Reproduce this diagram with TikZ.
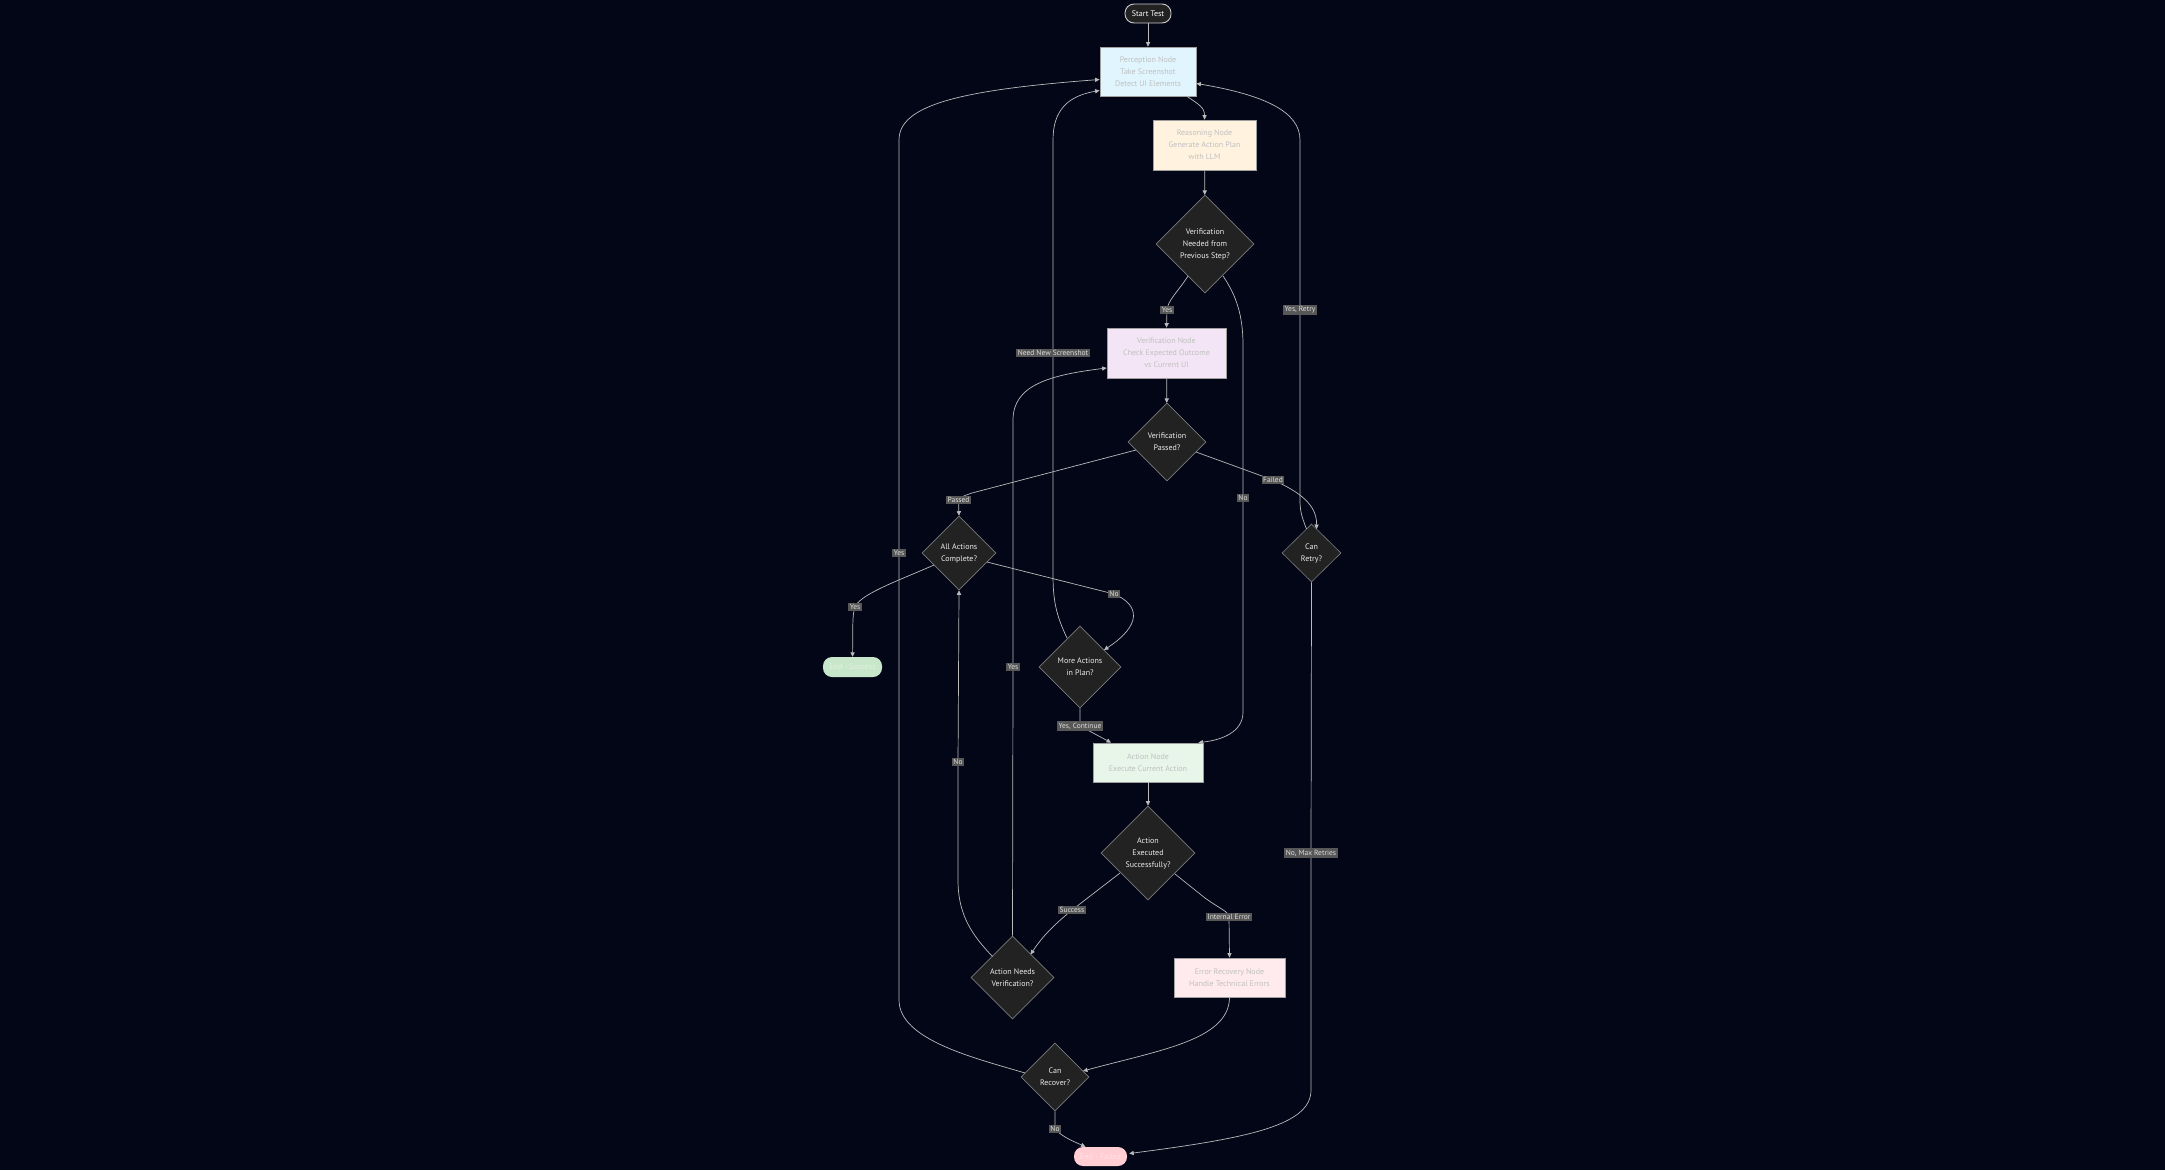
\documentclass[tikz,border=0pt]{standalone}
\usepackage{fontspec}
\setmainfont{PT Sans}
\usetikzlibrary{shapes.geometric,arrows.meta}
\definecolor{bgc}{HTML}{020617}
\definecolor{edgec}{HTML}{BBBBBB}
\definecolor{lblbg}{HTML}{575757}
\definecolor{lbltxt}{HTML}{DDDDDD}
\definecolor{diaf}{HTML}{222222}
\definecolor{diab}{HTML}{7A7A7A}
\definecolor{boxb}{HTML}{9E9E9E}
\definecolor{boxt}{HTML}{C0C0C0}
\definecolor{percf}{HTML}{E1F5FE}
\definecolor{reasf}{HTML}{FFF3E0}
\definecolor{verf}{HTML}{F3E5F5}
\definecolor{actf}{HTML}{E8F5E9}
\definecolor{errf}{HTML}{FFEBEE}
\definecolor{endsf}{HTML}{C8E6C9}
\definecolor{endff}{HTML}{FFCDD2}
\definecolor{endst}{HTML}{E3F2E3}
\definecolor{endft}{HTML}{FFE4E8}
\begin{document}
\begin{tikzpicture}[x=1pt,y=-1pt,
  nodefont/.style={font=\fontsize{8}{12}\selectfont},
  box/.style={rectangle, draw=boxb, line width=0.8pt, text=boxt, align=center, inner sep=0pt, nodefont},
  dia/.style={diamond, draw=diab, fill=diaf, line width=0.6pt, text=white!92!black, align=center, inner sep=0pt, aspect=1, nodefont},
  term/.style={rectangle, rounded corners=9pt, align=center, inner sep=0pt, nodefont},
  arr/.style={draw=edgec, line width=0.7pt, -{Triangle[length=4.5pt,width=4.2pt]}},
  lbl/.style={fill=lblbg, text=lbltxt, font=\fontsize{7.5}{9}\selectfont, inner xsep=1.5pt, inner ysep=1.6pt}
]
\fill[bgc] (0,0) rectangle (2165,1170);
\useasboundingbox (0,0) rectangle (2165,1170);

% nodes
\node[term, draw=white!80!black, line width=0.9pt, fill=diaf, text=white, minimum width=46, minimum height=19] (start) at (1148,13.5) {Start Test};
\node[box, fill=percf, minimum width=96, minimum height=49] (perc) at (1148,71.5) {Perception Node\\Take Screenshot\\Detect UI Elements};
\node[box, fill=reasf, minimum width=103, minimum height=50] (reas) at (1204.5,145) {Reasoning Node\\Generate Action Plan\\with LLM};
\node[dia, minimum width=98, minimum height=98] (vn) at (1205,244) {Verification\\Needed from\\Previous Step?};
\node[box, fill=verf, minimum width=119, minimum height=50] (vnode) at (1166.5,353) {Verification Node\\Check Expected Outcome\\vs Current UI};
\node[dia, minimum width=78, minimum height=78] (vp) at (1167,442) {Verification\\Passed?};
\node[dia, minimum width=74, minimum height=74] (aac) at (959,553) {All Actions\\Complete?};
\node[term, fill=endsf, text=endst, minimum width=59, minimum height=20] (endS) at (852.5,667) {End - Success};
\node[dia, minimum width=82, minimum height=82] (ma) at (1080,667) {More Actions\\in Plan?};
\node[dia, minimum width=59, minimum height=58] (cr) at (1311.5,553) {Can\\Retry?};
\node[box, fill=actf, minimum width=110, minimum height=39] (action) at (1148,762.5) {Action Node\\Execute Current Action};
\node[dia, minimum width=94, minimum height=94] (ae) at (1148,853) {Action\\Executed\\Successfully?};
\node[dia, minimum width=83, minimum height=83] (anv) at (1012.5,977.5) {Action Needs\\Verification?};
\node[box, fill=errf, minimum width=111, minimum height=39] (err) at (1229.5,977.5) {Error Recovery Node\\Handle Technical Errors};
\node[dia, minimum width=68, minimum height=68] (crec) at (1055,1077) {Can\\Recover?};
\node[term, fill=endff, text=endft, minimum width=53, minimum height=19] (endF) at (1100.5,1156.5) {End - Failed};

% edges
\draw[arr] (start) -- (perc);
\draw[arr] ([shift={(39,0)}]perc.south) .. controls +(12,8) and +(0,-12) .. (reas.north);
\draw[arr] (reas) -- (vn);
% Yes -> verification node
\draw[arr] ([shift={(-17,32)}]vn.center) .. controls (1177,293) and (1168,300) .. (1167,310) node[lbl]{Yes} -- (vnode.north);
% No -> action node
\draw[arr] ([shift={(18,32)}]vn.center) .. controls (1236,295) and (1243,315) .. (1243,345) -- (1243,498) node[lbl]{No} -- (1243,712) .. controls (1243,732) and (1222,740) .. ([shift={(-5,0)}]action.north east);
\draw[arr] (vnode) -- (vp);
% Passed
\draw[arr] ([shift={(-31,8)}]vp.center) -- (972,493) .. controls (963,496) and (959,498) .. (958.5,500) node[lbl]{Passed} -- (aac.north);
% Failed
\draw[arr] ([shift={(29,10)}]vp.center) -- (1273,480) node[lbl]{Failed} .. controls (1300,492) and (1317,505) .. ([shift={(5,-24)}]cr.center);
% Yes, Retry
\draw[arr] ([shift={(-5,-24)}]cr.center) .. controls (1301,515) and (1300,510) .. (1300,500) -- (1300,310) node[lbl]{Yes, Retry} -- (1300,140) .. controls (1300,112) and (1265,95) .. ([shift={(0,12)}]perc.east);
% No, Max Retries
\draw[arr] (cr.south) -- (1311,853) node[lbl]{No, Max Retries} -- (1311,1090) .. controls (1311,1125) and (1250,1138) .. ([shift={(2,-3)}]endF.east);
% AAC yes -> end success
\draw[arr] ([shift={(-25,12)}]aac.center) .. controls (900,580) and (860,594) .. (855,607) node[lbl]{Yes} .. controls (852,615) and (853,630) .. (endS.north);
% AAC no -> more actions
\draw[arr] ([shift={(28,9)}]aac.center) -- (1114,594) node[lbl]{No} .. controls (1140,605) and (1142,625) .. ([shift={(24,-17)}]ma.center);
% Need New Screenshot
\draw[arr] ([shift={(-13,-29)}]ma.center) .. controls (1056,615) and (1053,600) .. (1053,575) -- (1053,353) node[lbl]{Need New Screenshot} -- (1053,140) .. controls (1053,110) and (1068,96) .. ([shift={(0,19)}]perc.west);
% Yes, Continue
\draw[arr] (ma.south) -- (1080,726) node[lbl]{Yes, Continue} -- ([shift={(-37,0)}]action.north);
\draw[arr] (action) -- (ae);
% Success
\draw[arr] ([shift={(-28,20)}]ae.center) -- (1072,910) node[lbl]{Success} .. controls (1050,928) and (1040,940) .. ([shift={(18,-23)}]anv.center);
% Internal Error
\draw[arr] ([shift={(27,21)}]ae.center) -- (1205,898) .. controls (1222,910) and (1229,912) .. (1229,917) node[lbl]{Internal Error} -- (err.north);
% ANV yes -> verification node
\draw[arr] (anv.north) -- (1013,667) node[lbl]{Yes} -- (1013,420) .. controls (1013,385) and (1050,375) .. ([shift={(0,15)}]vnode.west);
% ANV no -> AAC
\draw[arr] ([shift={(-20,-21)}]anv.center) .. controls (972,935) and (958,915) .. (958,880) -- (958,762) node[lbl]{No} -- (aac.south);
% error -> can recover
\draw[arr] (err.south) .. controls (1229,1040) and (1160,1050) .. ([shift={(28,-6)}]crec.center);
% can recover yes -> perception
\draw[arr] ([shift={(-30,-4)}]crec.center) .. controls (975,1058) and (899,1040) .. (899,1000) -- (899,553) node[lbl]{Yes} -- (899,140) .. controls (899,105) and (960,90) .. ([shift={(0,8)}]perc.west);
% can recover no -> end failed
\draw[arr] (crec.south) -- (1055,1129) node[lbl]{No} .. controls (1062,1137) and (1075,1142) .. ([shift={(-15,0)}]endF.north);
\end{tikzpicture}
\end{document}
